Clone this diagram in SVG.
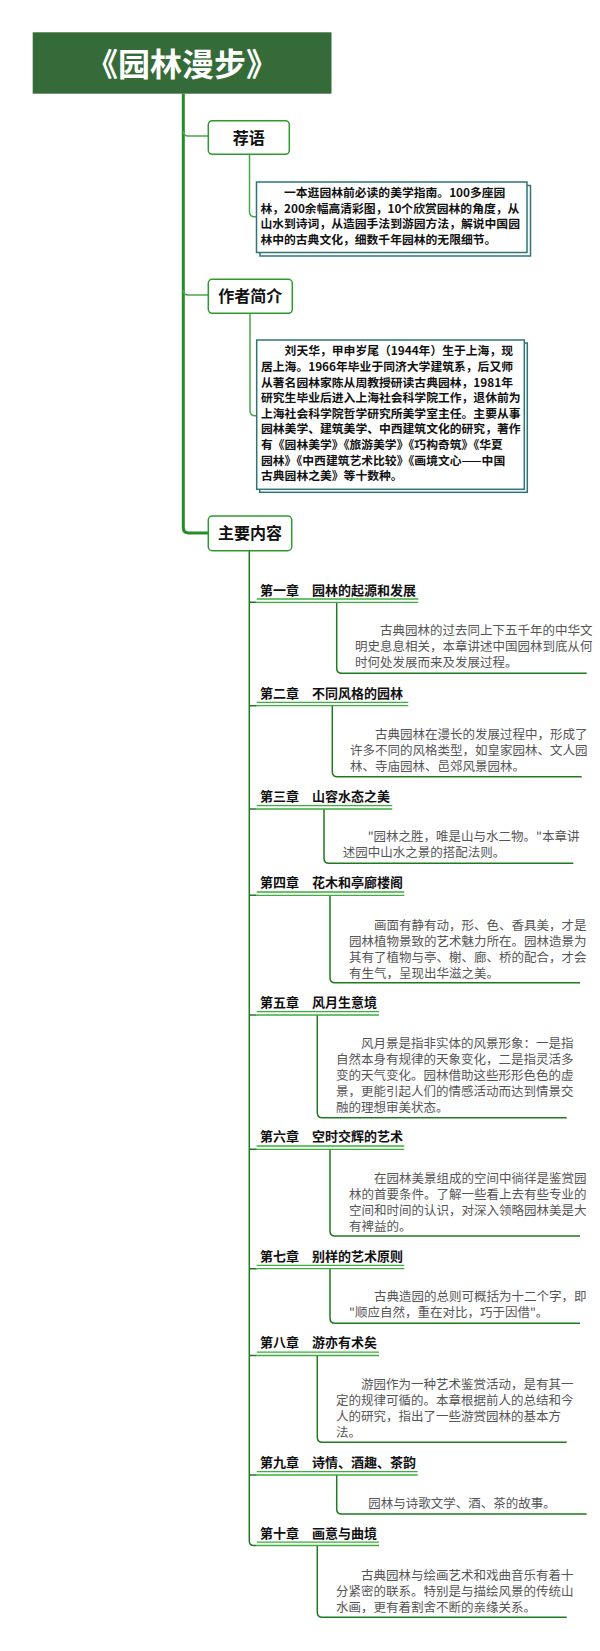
<svg xmlns="http://www.w3.org/2000/svg" width="600" height="1651" viewBox="0 0 600 1651">
<style>
text{font-family:"Noto Sans CJK SC","Noto Sans",sans-serif;}
.title{font-size:32px;font-weight:bold;fill:#ffffff;}
.lbl{font-size:16px;font-weight:bold;fill:#111;}
.note{font-size:11.8px;font-weight:bold;fill:#111;}
.ch{font-size:13px;font-weight:bold;fill:#111;}
.desc{font-size:12.5px;fill:#555;}
.box{fill:#fff;stroke:#2e9a2e;stroke-width:1.5;}
.nb{fill:#fff;stroke:#2f7575;stroke-width:1.5;}
.trunk{fill:none;stroke:#268c26;stroke-width:3;}
.br{fill:none;stroke:#4aa64a;stroke-width:1.5;}
.ct{fill:none;stroke:#1f7a1f;stroke-width:1.5;}
.dc{fill:none;stroke:#1f7a1f;stroke-width:1.5;}
.ul{fill:none;stroke:#3cae3c;stroke-width:1.3;}
</style>
<g id="connectors">
<path class="trunk" d="M183.3,93.7 V527.5 Q183.3,533 188.8,533 H208.3"/>
<path class="br" d="M183.3,131 Q183.3,136 188.3,136 H208.3"/>
<path class="br" d="M183.3,290 Q183.3,295 188.3,295 H208.3"/>
<path class="br" d="M249.5,154.3 V211.7 Q249.5,216.7 254.5,216.7 H256.5"/>
<path class="br" d="M250,313.3 V410.7 Q250,415.7 255,415.7 H256.7"/>
<path class="ct" d="M249.3,550.7 V1541 Q249.3,1545.5 253.8,1545.5 H256.7"/>
<path class="ct" d="M249.3,602.3 H256.7 M249.3,705.7 H256.7 M249.3,809 H256.7 M249.3,895.3 H256.7 M249.3,1015 H256.7 M249.3,1149.3 H256.7 M249.3,1268.7 H256.7 M249.3,1355.5 H256.7 M249.3,1475 H256.7"/>
<path class="dc" d="M336.7,602.3 V668.3 Q336.7,673.3 341.7,673.3 H586.7"/>
<path class="dc" d="M332.3,705.7 V771.7 Q332.3,776.7 337.3,776.7 H581.7"/>
<path class="dc" d="M324,809 V858.3 Q324,863.3 329,863.3 H573.3"/>
<path class="dc" d="M330,895.3 V977.7 Q330,982.7 335,982.7 H580"/>
<path class="dc" d="M317.3,1015 V1112.7 Q317.3,1117.7 322.3,1117.7 H566.7"/>
<path class="dc" d="M330,1149.3 V1231 Q330,1236 335,1236 H580"/>
<path class="dc" d="M330,1268.7 V1318.3 Q330,1323.3 335,1323.3 H580"/>
<path class="dc" d="M317.3,1355.5 V1437.3 Q317.3,1442.3 322.3,1442.3 H566.7"/>
<path class="dc" d="M336.7,1475 V1509 Q336.7,1514 341.7,1514 H586.7"/>
<path class="dc" d="M317.3,1545.5 V1612.3 Q317.3,1617.3 322.3,1617.3 H566.7"/>
</g>
<g id="root">
<rect x="32.7" y="32.3" width="298.8" height="61.4" fill="#356b38"/>
<text class="title" x="182.1" y="76" text-anchor="middle">《园林漫步》</text>
</g>
<g id="n-jianyu">
<rect class="box" x="208.3" y="120.7" width="81" height="33.6" rx="4"/>
<text class="lbl" x="248.8" y="143.5" text-anchor="middle">荐语</text>
</g>
<g id="n-jianyu-note">
<rect class="nb" x="260" y="185.5" width="270.5" height="70.5"/>
<rect class="nb" x="256.5" y="182" width="270.5" height="70.5"/>
<text class="note" x="260.4" y="197.2">　　一本逛园林前必读的美学指南。100多座园</text>
<text class="note" x="260.4" y="212.8">林，200余幅高清彩图，10个欣赏园林的角度，从</text>
<text class="note" x="260.4" y="228.3">山水到诗词，从造园手法到游园方法，解说中国园</text>
<text class="note" x="260.4" y="243.8">林中的古典文化，细数千年园林的无限细节。</text>
</g>
<g id="n-author">
<rect class="box" x="208.3" y="279.3" width="84" height="34" rx="4"/>
<text class="lbl" x="250.3" y="302.3" text-anchor="middle">作者简介</text>
</g>
<g id="n-author-note">
<rect class="nb" x="259.7" y="343" width="267.6" height="149.3"/>
<rect class="nb" x="256.7" y="340" width="267.6" height="149.3"/>
<text class="note" x="261" y="355.3">　　刘天华，甲申岁尾（1944年）生于上海，现</text>
<text class="note" x="261" y="370.9">居上海。1966年毕业于同济大学建筑系，后又师</text>
<text class="note" x="261" y="386.5">从著名园林家陈从周教授研读古典园林，1981年</text>
<text class="note" x="261" y="402.1">研究生毕业后进入上海社会科学院工作，退休前为</text>
<text class="note" x="261" y="417.7">上海社会科学院哲学研究所美学室主任。主要从事</text>
<text class="note" x="261" y="433.3">园林美学、建筑美学、中西建筑文化的研究，著作</text>
<text class="note" x="261" y="448.9">有《园林美学》《旅游美学》《巧构奇筑》《华夏</text>
<text class="note" x="261" y="464.5">园林》《中西建筑艺术比较》《画境文心——中国</text>
<text class="note" x="261" y="480.1">古典园林之美》等十数种。</text>
</g>
<g id="n-main">
<rect class="box" x="208.3" y="516" width="83.4" height="34.7" rx="4"/>
<text class="lbl" x="250" y="539.3" text-anchor="middle">主要内容</text>
</g>
<g id="ch1">
<text class="ch" x="260" y="595">第一章　园林的起源和发展</text>
<path class="ul" d="M256.7,599 H418.3 M256.7,602.3 H418.3"/>
<text class="desc" x="355" y="635.4">　　古典园林的过去同上下五千年的中华文</text>
<text class="desc" x="355" y="651.4">明史息息相关，本章讲述中国园林到底从何</text>
<text class="desc" x="355" y="667.4">时何处发展而来及发展过程。</text>
</g>
<g id="ch2">
<text class="ch" x="260" y="697.7">第二章　不同风格的园林</text>
<path class="ul" d="M256.7,702.4 H408.3 M256.7,705.7 H408.3"/>
<text class="desc" x="350" y="739">　　古典园林在漫长的发展过程中，形成了</text>
<text class="desc" x="350" y="755">许多不同的风格类型，如皇家园林、文人园</text>
<text class="desc" x="350" y="771">林、寺庙园林、邑郊风景园林。</text>
</g>
<g id="ch3">
<text class="ch" x="260" y="800.7">第三章　山容水态之美</text>
<path class="ul" d="M256.7,805.7 H392.3 M256.7,809 H392.3"/>
<text class="desc" x="342.7" y="841.4">　　"园林之胜，唯是山与水二物。"本章讲</text>
<text class="desc" x="342.7" y="857.4">述园中山水之景的搭配法则。</text>
</g>
<g id="ch4">
<text class="ch" x="260" y="887.3">第四章　花木和亭廊楼阁</text>
<path class="ul" d="M256.7,892 H404.3 M256.7,895.3 H404.3"/>
<text class="desc" x="349" y="929.7">　　画面有静有动，形、色、香具美，才是</text>
<text class="desc" x="349" y="945.7">园林植物景致的艺术魅力所在。园林造景为</text>
<text class="desc" x="349" y="961.7">其有了植物与亭、榭、廊、桥的配合，才会</text>
<text class="desc" x="349" y="977.7">有生气，呈现出华滋之美。</text>
</g>
<g id="ch5">
<text class="ch" x="260" y="1006.7">第五章　风月生意境</text>
<path class="ul" d="M256.7,1011.7 H379 M256.7,1015 H379"/>
<text class="desc" x="336" y="1048">　　风月景是指非实体的风景形象：一是指</text>
<text class="desc" x="336" y="1064">自然本身有规律的天象变化，二是指灵活多</text>
<text class="desc" x="336" y="1080">变的天气变化。园林借助这些形形色色的虚</text>
<text class="desc" x="336" y="1096">景，更能引起人们的情感活动而达到情景交</text>
<text class="desc" x="336" y="1112">融的理想审美状态。</text>
</g>
<g id="ch6">
<text class="ch" x="260" y="1141">第六章　空时交辉的艺术</text>
<path class="ul" d="M256.7,1146 H404.3 M256.7,1149.3 H404.3"/>
<text class="desc" x="349" y="1183">　　在园林美景组成的空间中徜徉是鉴赏园</text>
<text class="desc" x="349" y="1199">林的首要条件。了解一些看上去有些专业的</text>
<text class="desc" x="349" y="1215">空间和时间的认识，对深入领略园林美是大</text>
<text class="desc" x="349" y="1231">有裨益的。</text>
</g>
<g id="ch7">
<text class="ch" x="260" y="1260.7">第七章　别样的艺术原则</text>
<path class="ul" d="M256.7,1265.4 H404.3 M256.7,1268.7 H404.3"/>
<text class="desc" x="349" y="1301.4">　　古典造园的总则可概括为十二个字，即</text>
<text class="desc" x="349" y="1317.4">"顺应自然，重在对比，巧于因借"。</text>
</g>
<g id="ch8">
<text class="ch" x="260" y="1346.7">第八章　游亦有术矣</text>
<path class="ul" d="M256.7,1352.2 H379 M256.7,1355.5 H379"/>
<text class="desc" x="336" y="1389">　　游园作为一种艺术鉴赏活动，是有其一</text>
<text class="desc" x="336" y="1405">定的规律可循的。本章根据前人的总结和今</text>
<text class="desc" x="336" y="1421">人的研究，指出了一些游赏园林的基本方</text>
<text class="desc" x="336" y="1437">法。</text>
</g>
<g id="ch9">
<text class="ch" x="260" y="1466.7">第九章　诗情、酒趣、茶韵</text>
<path class="ul" d="M256.7,1471.7 H417.7 M256.7,1475 H417.7"/>
<text class="desc" x="343.3" y="1508">　　园林与诗歌文学、酒、茶的故事。</text>
</g>
<g id="ch10">
<text class="ch" x="260" y="1537.7">第十章　画意与曲境</text>
<path class="ul" d="M256.7,1542.2 H379 M256.7,1545.5 H379"/>
<text class="desc" x="336" y="1579.7">　　古典园林与绘画艺术和戏曲音乐有着十</text>
<text class="desc" x="336" y="1595.7">分紧密的联系。特别是与描绘风景的传统山</text>
<text class="desc" x="336" y="1611.7">水画，更有着割舍不断的亲缘关系。</text>
</g>
</svg>
